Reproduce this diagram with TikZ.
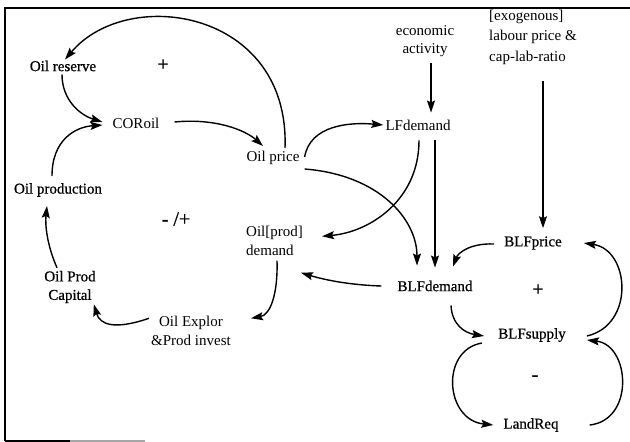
\documentclass[tikz,border=0pt]{standalone}
\usepackage{fontspec}
\setmainfont{Liberation Serif}
\newfontfamily\heavyserif[FakeBold=0.7]{Liberation Serif}
\usetikzlibrary{arrows.meta}
\begin{document}
\begin{tikzpicture}[x=1pt,y=-1pt,
  lbl/.style={inner sep=0pt,font=\fontsize{15}{18.5}\selectfont,align=center},
  hlbl/.style={lbl,font=\heavyserif\fontsize{15}{18.5}\selectfont},
  sign/.style={inner sep=0pt,font=\heavyserif\fontsize{20}{20}\selectfont},
  arr/.style={line width=1.4pt,-{Stealth[length=12pt,width=8pt,inset=2pt]}},
  frameline/.style={line width=1.5pt}]
\useasboundingbox (0,0) rectangle (630,442);
% frame
\draw[frameline] (5,441) -- (5,8) -- (630,8);
\draw[frameline] (5,441) -- (70,441);
\draw[line width=1.2pt,black!35] (70,441) -- (145,441);

% oil sub-system
\node[hlbl] (oilres) at (63,66) {Oil reserve};
\node[lbl] (coroil) at (136,123) {CORoil};
\node[lbl] (oilprice) at (273,158) {Oil price};
\node[hlbl] (oilprod) at (58,190) {Oil production};
\node[hlbl] (opcap) at (70,287) {Oil Prod\\Capital};
\node[lbl] (explor) at (191,331) {Oil Explor\\\&Prod invest};
\node[lbl,align=left,anchor=west] (oildem) at (246,241) {Oil[prod]\\demand};

% land / labour sub-system
\node[lbl] (econ) at (425,41) {economic\\activity};
\node[lbl,align=left,anchor=west,font=\fontsize{15}{20.5}\selectfont] (exo) at (489,37) {[exogenous]\\labour price \&\\cap-lab-ratio};
\node[lbl] (lfdem) at (418,125) {LFdemand};
\node[hlbl] (blfprice) at (533,243) {BLFprice};
\node[hlbl] (blfdem) at (435,286) {BLFdemand};
\node[hlbl] (blfsup) at (532,335) {BLFsupply};
\node[hlbl] (landreq) at (531,425) {LandReq};

% loop polarities
\node[sign] (p1) at (163,65) {+};
\node[sign] (pm) at (176,219) {- /+};
\node[sign] (p2) at (538,290) {+};
\node[sign] (m1) at (535,378) {-};

% oil connectors
\draw[arr] ([xshift=12pt,yshift=3pt]oilprice.north) .. controls (290,10) and (128,-15) .. ([xshift=2pt,yshift=1pt]oilres.north);
\draw[arr] ([xshift=-1pt,yshift=-3pt]oilres.south) .. controls (62,100) and (80,115) .. ([xshift=-10pt,yshift=1pt]coroil.west);
\draw[arr] ([xshift=-6pt,yshift=7pt]oilprod.north) .. controls (52,140) and (75,127) .. ([xshift=-10pt,yshift=-2pt]coroil.west);
\draw[arr] ([xshift=15pt,yshift=1pt]coroil.east) .. controls (215,118) and (245,130) .. ([xshift=-10pt,yshift=5pt]oilprice.north);
\draw[arr] ([xshift=-13pt,yshift=3pt]opcap.north) .. controls (47,245) and (45,225) .. ([xshift=-11pt,yshift=-9pt]oilprod.south);
\draw[arr] ([xshift=-2pt,yshift=-2pt]explor.north west) .. controls (115,330) and (100,325) .. ([xshift=-2pt,yshift=-1pt]opcap.south east);
\draw[arr] ([xshift=31pt,yshift=-5pt]oildem.south west) .. controls (278,295) and (270,315) .. ([xshift=20pt,yshift=-2pt]explor.north east);

% labour / land connectors
\draw[arr] ([xshift=5pt,yshift=-6pt]oilprice.north east) .. controls (310,125) and (350,122) .. ([xshift=-2pt]lfdem.west);
\draw[arr] ([xshift=1pt,yshift=-10pt]lfdem.south) .. controls (419,200) and (370,232) .. ([xshift=19pt,yshift=-10pt]oildem.north east);
\draw[arr] ([xshift=17pt,yshift=-10pt]lfdem.south) -- ([yshift=13pt]blfdem.north);
\draw[arr] ([xshift=5pt,yshift=-4pt]oilprice.south east) .. controls (380,175) and (417,220) .. ([xshift=-18pt,yshift=15pt]blfdem.north);
\draw[arr] ([xshift=6pt,yshift=-6pt]econ.south) -- ([xshift=13pt,yshift=7pt]lfdem.north);
\draw[arr] ([xshift=54pt,yshift=-16pt]exo.south west) -- ([xshift=10pt,yshift=8pt]blfprice.north);
\draw[arr] ([xshift=-10pt,yshift=-1pt]blfprice.west) .. controls (470,243) and (458,253) .. ([xshift=18pt,yshift=14pt]blfdem.north);
\draw[arr] ([xshift=-16pt]blfdem.west) .. controls (350,285) and (325,280) .. ([xshift=-2pt,yshift=-17pt]oildem.south east);
\draw[arr] ([xshift=16pt,yshift=-14pt]blfdem.south) .. controls (452,325) and (465,333) .. ([xshift=-14pt,yshift=-1pt]blfsup.west);
\draw[arr] ([xshift=21pt,yshift=-1pt]blfsup.east) .. controls (635,325) and (630,250) .. ([xshift=22pt,yshift=0pt]blfprice.east);
\draw[arr] ([xshift=31pt]landreq.east) .. controls (635,420) and (630,345) .. ([xshift=21pt,yshift=-5pt]blfsup.east);
\draw[arr] ([xshift=-16pt,yshift=-8pt]blfsup.west) .. controls (440,350) and (445,420) .. ([xshift=-10pt]landreq.west);
\end{tikzpicture}
\end{document}
